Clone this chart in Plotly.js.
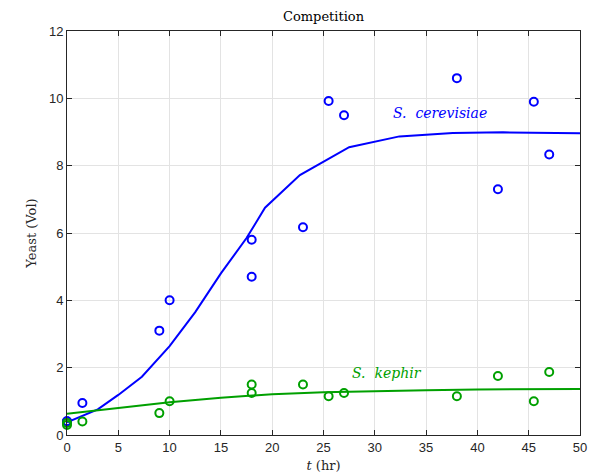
<!DOCTYPE html>
<html>
<head>
<meta charset="utf-8">
<script src="https://cdn.plot.ly/plotly-3.0.1.min.js"></script>
<style>html,body{margin:0;padding:0;background:#fff;}#chart{width:594px;height:474px;}</style>
</head>
<body>
<div id="chart"></div>
<script>
// Measured data
const cerevisiaeT = [0, 0, 1.5, 9, 10, 18, 18, 23, 25.5, 27, 38, 42, 45.5, 47];
const cerevisiaeY = [0.41, 0.41, 0.95, 3.1, 4.0, 5.8, 4.7, 6.17, 9.92, 9.5, 10.6, 7.3, 9.9, 8.33];
const kephirT = [0, 0, 1.5, 9, 10, 18, 18, 23, 25.5, 27, 38, 42, 45.5, 47];
const kephirY = [0.3, 0.36, 0.4, 0.65, 1.0, 1.5, 1.25, 1.5, 1.15, 1.25, 1.15, 1.75, 1.0, 1.87];

// Model curves
const fitT1 = [0, 1.5, 3, 5, 7.3, 10, 12.5, 15, 17.5, 19.3, 22.7, 27.5, 32.4, 37.6, 42.5, 50];
const fitC = [0.38, 0.56, 0.76, 1.19, 1.73, 2.64, 3.65, 4.8, 5.85, 6.75, 7.72, 8.55, 8.87, 8.97, 8.99, 8.96];
const fitT2 = [0, 5, 10, 15, 20, 25, 30, 35, 40, 45, 50];
const fitK = [0.63, 0.8, 0.97, 1.11, 1.21, 1.27, 1.31, 1.33, 1.35, 1.36, 1.37];

const labels = ['<i>S.&#160;&#160;cerevisiae</i>', '<i>S.&#160;&#160;kephir</i>'];
const labelX = [36.4, 31.2];
const labelY = [9.55, 1.83];

const blue = '#0000ff';
const green = '#00a000';
const serif = "'DejaVu Serif', 'Liberation Serif', serif";

const traces = [
  {x: fitT1, y: fitC, mode: 'lines', line: {color: blue, width: 2}, hoverinfo: 'skip'},
  {x: fitT2, y: fitK, mode: 'lines', line: {color: green, width: 2}, hoverinfo: 'skip'},
  {x: cerevisiaeT, y: cerevisiaeY, mode: 'markers', cliponaxis: false,
   marker: {symbol: 'circle-open', size: 8, color: blue, line: {width: 2, color: blue}}},
  {x: kephirT, y: kephirY, mode: 'markers', cliponaxis: false,
   marker: {symbol: 'circle-open', size: 8, color: green, line: {width: 2, color: green}}}
];

const axisCommon = {
  showgrid: true, gridcolor: '#e3e3e3', gridwidth: 1,
  showline: true, linecolor: '#262626', linewidth: 1, mirror: 'ticks',
  ticks: 'inside', ticklen: 5, tickcolor: '#262626', zeroline: false,
  tickfont: {family: "'Liberation Sans', Arial, sans-serif", size: 13, color: '#262626'}
};

const layout = {
  width: 594, height: 474,
  margin: {l: 67, r: 14, t: 31, b: 39},
  paper_bgcolor: '#fff', plot_bgcolor: '#fff',
  showlegend: false,
  title: {text: 'Competition', x: 0.5, xref: 'paper', xanchor: 'center', y: 0.965, yanchor: 'middle',
          font: {family: serif, size: 13, color: '#000'}},
  xaxis: Object.assign({}, axisCommon, {range: [0, 50], dtick: 5, tick0: 0,
    title: {text: '<i>t</i> (hr)', standoff: 7, font: {family: serif, size: 13, color: '#262626'}}}),
  yaxis: Object.assign({}, axisCommon, {range: [0, 12], dtick: 2, tick0: 0,
    title: {text: 'Yeast (Vol)', standoff: 9, font: {family: serif, size: 13, color: '#262626'}}}),
  annotations: labels.map((t, i) => ({
    x: labelX[i], y: labelY[i], xref: 'x', yref: 'y', text: t, showarrow: false,
    font: {family: serif, size: 14, color: i === 0 ? blue : green}
  }))
};

Plotly.newPlot('chart', traces, layout, {staticPlot: true, displayModeBar: false});
</script>
</body>
</html>
